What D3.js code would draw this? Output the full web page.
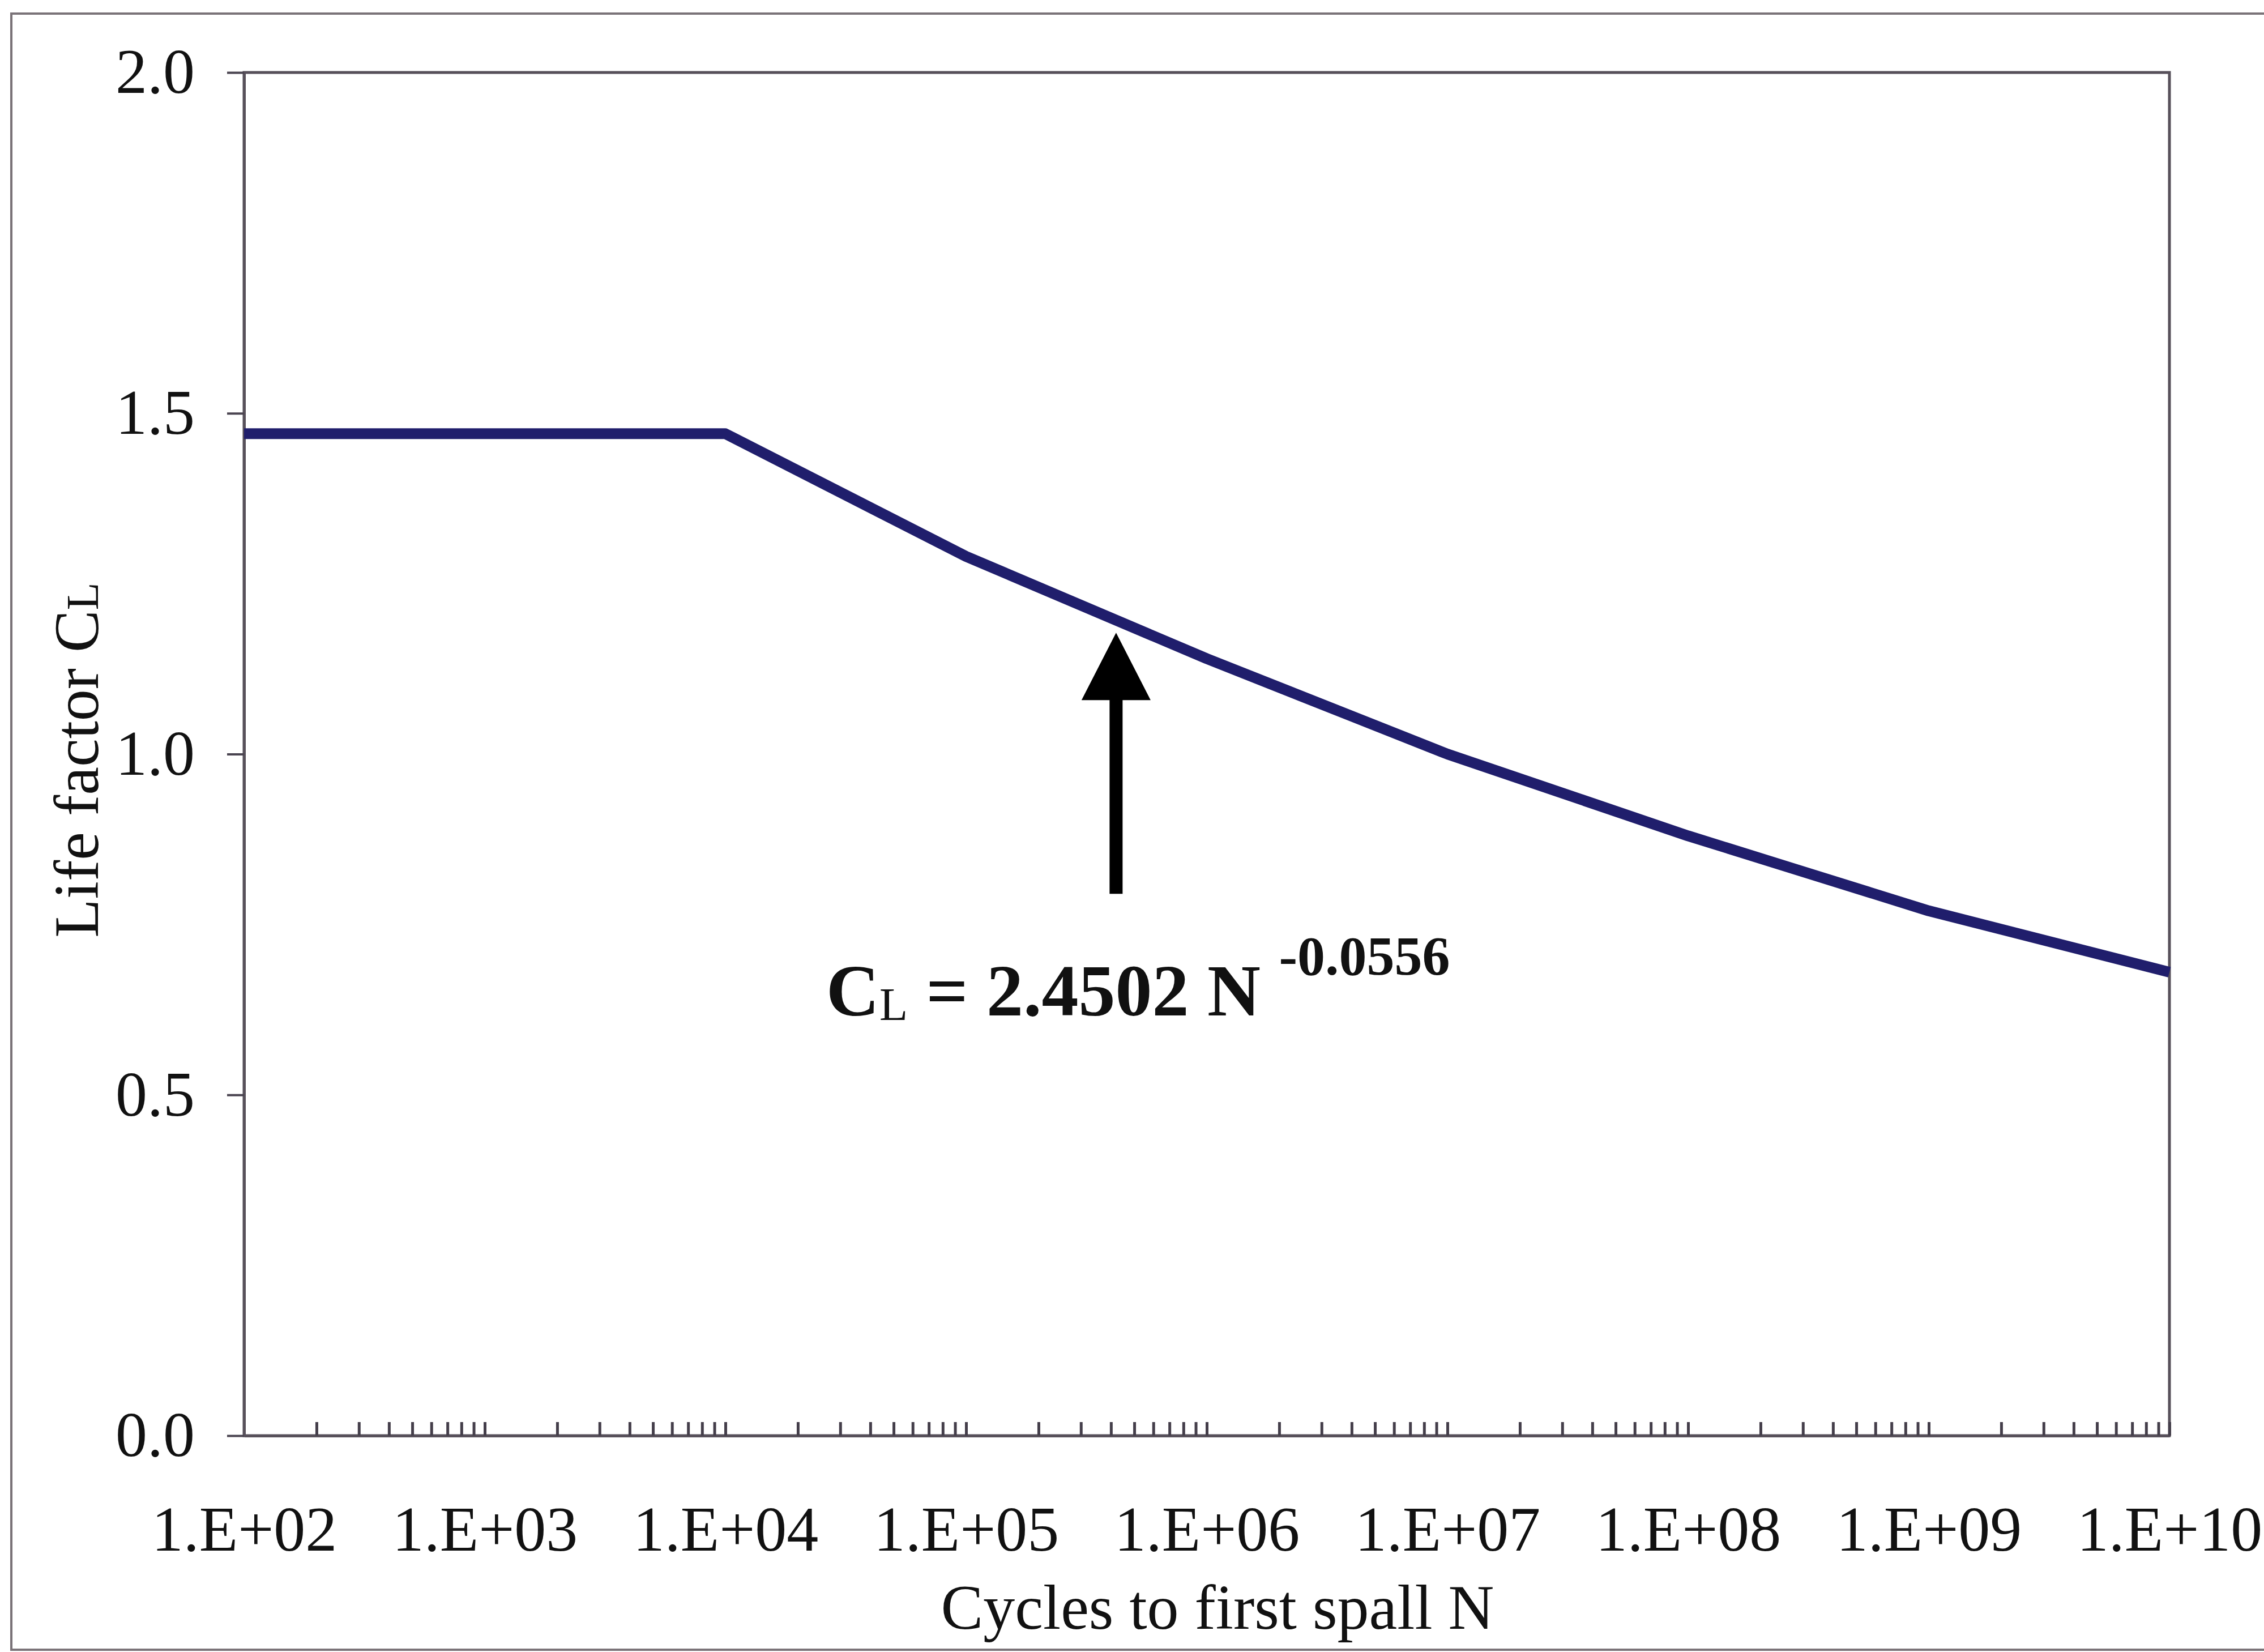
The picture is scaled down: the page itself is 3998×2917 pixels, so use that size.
<!DOCTYPE html>
<html>
<head>
<meta charset="utf-8">
<script src="https://cdn.jsdelivr.net/npm/d3@7"></script>
<style>
  body { margin: 0; background: #ffffff; }
  text { font-family: "Liberation Serif", "Times New Roman", serif; fill: #111; }
</style>
</head>
<body>
<div id="chart"></div>
<script>
// data
var cycles = [1e2, 1e3, 1e4, 1e5, 1e6, 1e7, 1e8, 1e9, 1e10];
var lifeFactor = [1.47, 1.47, 1.47, 1.29, 1.14, 1.00, 0.88, 0.77, 0.68];
var xTickLabels = ["1.E+02", "1.E+03", "1.E+04", "1.E+05", "1.E+06", "1.E+07", "1.E+08", "1.E+09", "1.E+10"];
var yTicks = [0, 0.5, 1.0, 1.5, 2.0];

// svg parameters
var svgWidth = 3998;
var svgHeight = 2917;

var margin = {
    top: 128,
    right: 167,
    bottom: 382,
    left: 431
};

var width = svgWidth - margin.left - margin.right;
var height = svgHeight - margin.top - margin.bottom;

var svg = d3.select("#chart")
    .append("svg")
    .attr("width", svgWidth)
    .attr("height", svgHeight);

// outer frame (cut off at the right like the original)
svg.append("rect")
    .attr("x", 20)
    .attr("y", 24)
    .attr("width", svgWidth + 20)
    .attr("height", 2889)
    .attr("fill", "none")
    .attr("stroke", "#7a7378")
    .attr("stroke-width", 4);

var chartGroup = svg.append("g")
    .attr("transform", `translate(${margin.left}, ${margin.top})`);

var xScale = d3.scaleLog()
    .domain([1e2, 1e10])
    .range([0, width]);

var yScale = d3.scaleLinear()
    .domain([0, 2])
    .range([height, 0]);

// plot border
chartGroup.append("rect")
    .attr("width", width)
    .attr("height", height)
    .attr("fill", "none")
    .attr("stroke", "#57505a")
    .attr("stroke-width", 5);

// x axis: minor ticks at 2..9 in every decade, labels only on decades
var minorTicks = [];
cycles.forEach(function(c, i) {
    if (i < cycles.length - 1) {
        for (var k = 2; k <= 9; k++) minorTicks.push(c * k);
    }
});

var bottomAxis = d3.axisBottom(xScale)
    .tickValues(cycles.concat(minorTicks))
    .tickSize(-24)
    .tickSizeOuter(0)
    .tickPadding(123)
    .tickFormat(function(d) {
        var i = cycles.indexOf(d);
        return i >= 0 ? xTickLabels[i] : "";
    });

var xAxis = chartGroup.append("g")
    .attr("transform", `translate(0, ${height})`)
    .call(bottomAxis);

xAxis.select(".domain").attr("stroke", "#57505a").attr("stroke-width", 5);
xAxis.selectAll(".tick line").attr("stroke", "#443e4a").attr("stroke-width", 5);
xAxis.selectAll("text").style("font-size", "112px").style("font-family", "Liberation Serif").attr("fill", "#111");

var leftAxis = d3.axisLeft(yScale)
    .tickValues(yTicks)
    .tickSize(30)
    .tickSizeOuter(0)
    .tickPadding(57)
    .tickFormat(d3.format(".1f"));

var yAxis = chartGroup.append("g")
    .call(leftAxis);

yAxis.select(".domain").attr("stroke", "#57505a").attr("stroke-width", 5);
yAxis.selectAll(".tick line").attr("stroke", "#4a4450").attr("stroke-width", 4);
yAxis.selectAll("text").style("font-size", "112px").style("font-family", "Liberation Serif").attr("fill", "#111");

// life factor line
var line = d3.line()
    .x(function(d, i) { return xScale(cycles[i]); })
    .y(function(d) { return yScale(d); });

chartGroup.append("path")
    .datum(lifeFactor)
    .attr("d", line)
    .attr("fill", "none")
    .attr("stroke", "#201e6c")
    .attr("stroke-width", 19)
    .attr("stroke-linejoin", "round");

// arrow pointing at the curve
var arrowN = 4.2e5;
var ax = xScale(arrowN);
var tipY = yScale(1.178);
var baseY = yScale(0.795);
var headLen = 119;
var headHalf = 61;

chartGroup.append("line")
    .attr("x1", ax)
    .attr("x2", ax)
    .attr("y1", baseY)
    .attr("y2", tipY + headLen - 2)
    .attr("stroke", "#000")
    .attr("stroke-width", 23);

chartGroup.append("path")
    .attr("d", `M${ax},${tipY} L${ax - headHalf},${tipY + headLen} L${ax + headHalf},${tipY + headLen} Z`)
    .attr("fill", "#000");

// equation
var eq = chartGroup.append("text")
    .attr("x", 1459 - margin.left)
    .attr("y", 1793 - margin.top)
    .style("font-size", "130px")
    .style("font-weight", "bold");

eq.append("tspan").text("C");
eq.append("tspan")
    .attr("dy", 8)
    .style("font-size", "82px")
    .style("font-weight", "normal")
    .text("L");
eq.append("tspan")
    .attr("dy", -8)
    .text(" = 2.4502 N ");
eq.append("tspan")
    .attr("dy", -72)
    .style("font-size", "98px")
    .text("-0.0556");

// axis titles
svg.append("text")
    .attr("x", 2150)
    .attr("y", 2876)
    .attr("text-anchor", "middle")
    .style("font-size", "112px")
    .text("Cycles to first spall N");

var yTitle = svg.append("text")
    .attr("transform", "translate(173, 1342) rotate(-90)")
    .attr("text-anchor", "middle")
    .style("font-size", "112px");

yTitle.append("tspan").text("Life factor C");
yTitle.append("tspan").style("font-size", "80px").text("L");
</script>
</body>
</html>
